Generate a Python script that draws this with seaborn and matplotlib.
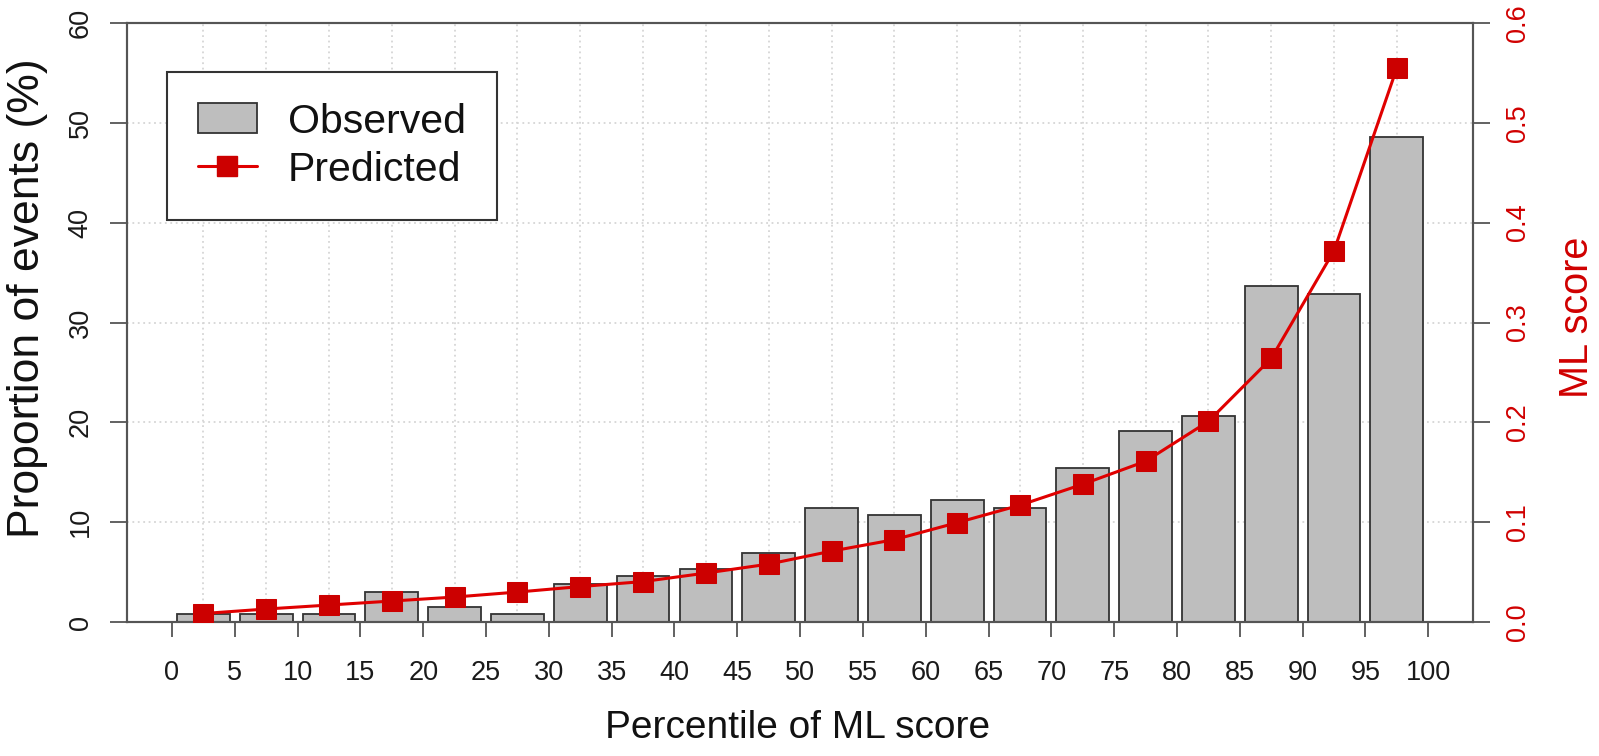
import matplotlib
matplotlib.use("Agg")
import matplotlib.pyplot as plt
import pandas as pd
import seaborn as sns
from matplotlib.patches import Patch
from matplotlib.lines import Line2D

# Percentile bins of the ML score (bin midpoints) and their values
percentile_mid = [2.5, 7.5, 12.5, 17.5, 22.5, 27.5, 32.5, 37.5, 42.5, 47.5,
                  52.5, 57.5, 62.5, 67.5, 72.5, 77.5, 82.5, 87.5, 92.5, 97.5]
observed_pct = [0.85, 0.85, 0.85, 3.05, 1.5, 0.8, 3.85, 4.6, 5.35, 6.9,
                11.45, 10.7, 12.25, 11.45, 15.4, 19.1, 20.65, 33.65, 32.9, 48.6]
predicted_score = [0.0085, 0.013, 0.017, 0.021, 0.025, 0.030, 0.0355, 0.0405, 0.049, 0.058,
                   0.071, 0.0825, 0.0995, 0.117, 0.138, 0.161, 0.201, 0.264, 0.372, 0.555]
x_ticks = list(range(0, 101, 5))
left_ticks = [0, 10, 20, 30, 40, 50, 60]
right_ticks = [0.0, 0.1, 0.2, 0.3, 0.4, 0.5, 0.6]
right_tick_labels = ["0.0", "0.1", "0.2", "0.3", "0.4", "0.5", "0.6"]

df = pd.DataFrame({"mid": percentile_mid, "observed": observed_pct, "predicted": predicted_score})

sns.set_theme(style="white")
plt.rcParams["font.family"] = ["Liberation Sans", "DejaVu Sans"]

RED_LINE = "#E00000"
RED_MARK = "#CC0000"
RED_TEXT = "#D00000"
FRAME = "#555555"
GRID = "#D6D6D6"

W, H = 1599, 756
fig = plt.figure(figsize=(W / 100, H / 100), dpi=100)
x0, x1, y0, y1 = 127, 1473, 23, 622
ax = fig.add_axes([x0 / W, 1 - y1 / H, (x1 - x0) / W, (y1 - y0) / H])

sns.barplot(data=df, x="mid", y="observed", native_scale=True, width=0.84,
            color="#BEBEBE", saturation=1, edgecolor="#333333", linewidth=1.3,
            errorbar=None, ax=ax, zorder=2)

ax.set_xlim(-3.58, 103.56)
ax.set_ylim(0, 60)
ax.set_xticks(x_ticks)
ax.set_xticklabels([str(t) for t in x_ticks])
ax.set_xticks(percentile_mid, minor=True)
ax.set_yticks(left_ticks)
ax.set_yticklabels([str(t) for t in left_ticks])
ax.set_xlabel("")
ax.set_ylabel("")

ax.set_axisbelow(True)
ax.grid(False)
ax.grid(which="minor", axis="x", color=GRID, linestyle=(0, (1, 2)), linewidth=1.3)
ax.grid(which="major", axis="y", color=GRID, linestyle=(0, (1, 2)), linewidth=1.3)

for sp in ax.spines.values():
    sp.set_visible(True)
    sp.set_color(FRAME)
    sp.set_linewidth(1.5)

ax.tick_params(axis="x", which="major", direction="out", length=11, width=1.3,
               color=FRAME, pad=16, labelsize=19.5, labelcolor="#1A1A1A", bottom=True)
ax.tick_params(axis="x", which="minor", length=0)
ax.tick_params(axis="y", which="major", direction="out", length=12, width=1.3,
               color=FRAME, pad=12, labelsize=19.5, labelcolor="#1A1A1A", left=True)
for lbl in ax.get_yticklabels():
    lbl.set_rotation(90)
    lbl.set_va("center")

# Secondary axis with the predicted ML score
ax2 = ax.twinx()
sns.lineplot(data=df, x="mid", y="predicted", ax=ax2, color=RED_LINE, linewidth=2.2,
             marker="s", markersize=14.5, markerfacecolor=RED_MARK,
             markeredgecolor=RED_MARK, zorder=3)
ax2.set_ylim(0, 0.6)
ax2.set_xlim(-3.58, 103.56)
ax2.set_yticks(right_ticks)
ax2.set_yticklabels(right_tick_labels)
ax2.set_ylabel("")
ax2.set_xlabel("")
ax2.grid(False)
for sp in ax2.spines.values():
    sp.set_visible(True)
    sp.set_color(FRAME)
    sp.set_linewidth(1.5)
ax2.tick_params(axis="y", which="major", direction="out", length=12, width=1.3,
                color=FRAME, pad=11, labelsize=19.5, labelcolor=RED_TEXT, right=True)
for lbl in ax2.get_yticklabels():
    lbl.set_rotation(90)
    lbl.set_va("center")

# Axis titles
fig.text(28 / W, 1 - 298 / H, "Proportion of events (%)", rotation=90,
         ha="center", va="center", fontsize=32, color="#111111")
fig.text(798 / W, 1 - 738 / H, "Percentile of ML score", ha="center", va="baseline",
         fontsize=28, color="#111111")
fig.text(1596 / W, 1 - 317 / H, "ML score", rotation=90, ha="right", va="center",
         fontsize=28.5, color=RED_TEXT)

# Legend
handles = [
    Patch(facecolor="#BEBEBE", edgecolor="#333333", linewidth=1.3),
    Line2D([], [], color=RED_LINE, linewidth=2.2, marker="s", markersize=14.5,
           markerfacecolor=RED_MARK, markeredgecolor=RED_MARK),
]
leg = ax2.legend(handles, ["Observed", "Predicted"], loc="upper left",
                 bbox_to_anchor=(167 / W, 1 - 72 / H), bbox_transform=fig.transFigure,
                 borderaxespad=0, fontsize=29.5, frameon=True, fancybox=False,
                 framealpha=1, edgecolor="#333333", handlelength=1.45,
                 handleheight=0.75, handletextpad=0.75, borderpad=0.75,
                 labelspacing=0.25)
leg.get_frame().set_linewidth(1.5)
for t in leg.get_texts():
    t.set_color("#111111")

fig.savefig("out.png", dpi=100, facecolor="white")
